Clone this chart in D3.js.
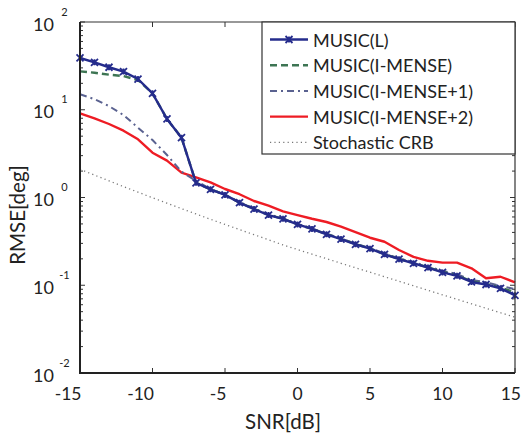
<!DOCTYPE html>
<html><head><meta charset="utf-8">
<script src="https://cdn.jsdelivr.net/npm/d3@7"></script>
<style>
html,body{margin:0;padding:0;background:#fff;}
text{font-family:Lato,"Open Sans",sans-serif;fill:#222;}
</style></head>
<body><svg id="c" width="522" height="434"></svg>
<script>
const snr = [-15,-14,-13,-12,-11,-10,-9,-8,-7,-6,-5,-4,-3,-2,-1,0,1,2,3,4,5,6,7,8,9,10,11,12,13,14,15];
const musicL = [38.9,34.7,30.5,27.2,22.4,15.4,7.85,4.8,1.47,1.24,1.07,0.873,0.739,0.631,0.571,0.494,0.438,0.380,0.336,0.293,0.261,0.225,0.198,0.178,0.159,0.140,0.128,0.109,0.102,0.0923,0.0768];
const musicIM = [27.4,26.4,25.1,24.2,21.8,15.4,7.85,4.8,1.47,1.24,1.07,0.875,0.74,0.632,0.572,0.494,0.44,0.382,0.338,0.295,0.262,0.226,0.2,0.179,0.16,0.142,0.13,0.111,0.104,0.094,0.083];
const musicIM1 = [15.0,13.2,11.0,8.71,6.24,4.52,3.05,1.97,1.55,1.25,1.07,0.89,0.75,0.64,0.58,0.50,0.445,0.387,0.342,0.298,0.266,0.230,0.203,0.183,0.164,0.146,0.134,0.115,0.108,0.0985,0.090];
const musicIM2 = [9.12,7.99,6.88,5.77,4.60,3.24,2.63,1.92,1.70,1.49,1.25,1.09,0.912,0.807,0.695,0.631,0.573,0.526,0.465,0.404,0.348,0.313,0.252,0.211,0.190,0.181,0.181,0.156,0.120,0.125,0.108];
const crb = [2.10,1.80,1.55,1.33,1.15,0.993,0.861,0.746,0.649,0.565,0.493,0.431,0.377,0.330,0.288,0.255,0.226,0.201,0.178,0.158,0.141,0.125,0.111,0.0986,0.0875,0.0778,0.0692,0.0615,0.0547,0.0486,0.0433];
const xTicks = [-15,-10,-5,0,5,10,15];
const yTicks = [0.01,0.1,1,10,100];
const yExps = ["-2","-1","0","1","2"];
const seriesNames = ["MUSIC(L)","MUSIC(I-MENSE)","MUSIC(I-MENSE+1)","MUSIC(I-MENSE+2)","Stochastic CRB"];

const L=80,R=515,T=22,B=373;
const svg=d3.select("#c");
const x=d3.scaleLinear().domain([-15,15]).range([L,R]);
const y=d3.scaleLog().domain([0.01,100]).range([B,T]);

const styles=[
 {data:musicL,color:"#252c8c",w:2.4,dash:null,marker:true},
 {data:musicIM,color:"#3d7553",w:2.4,dash:"7,4",marker:false},
 {data:musicIM1,color:"#5a6290",w:2,dash:"7,4,2,4",marker:false},
 {data:musicIM2,color:"#ee1c24",w:2.4,dash:null,marker:false},
 {data:crb,color:"#777",w:1.3,dash:"1.2,3.2",marker:false}
];

// minor ticks (log)
const minors=[];
for(let e=-2;e<2;e++)for(let m=2;m<=9;m++)minors.push(m*Math.pow(10,e));
const g=svg.append("g");
g.selectAll(".mnl").data(minors).enter().append("line")
 .attr("x1",L).attr("x2",L+3).attr("y1",d=>y(d)).attr("y2",d=>y(d)).attr("stroke","#333").attr("stroke-width",1);
g.selectAll(".mnr").data(minors).enter().append("line")
 .attr("x1",R).attr("x2",R-3).attr("y1",d=>y(d)).attr("y2",d=>y(d)).attr("stroke","#333").attr("stroke-width",1);
g.selectAll(".mjl").data(yTicks).enter().append("line")
 .attr("x1",L).attr("x2",L+5).attr("y1",d=>y(d)).attr("y2",d=>y(d)).attr("stroke","#333").attr("stroke-width",1);
g.selectAll(".mjr").data(yTicks).enter().append("line")
 .attr("x1",R).attr("x2",R-5).attr("y1",d=>y(d)).attr("y2",d=>y(d)).attr("stroke","#333").attr("stroke-width",1);
g.selectAll(".xb").data(xTicks).enter().append("line")
 .attr("x1",d=>x(d)).attr("x2",d=>x(d)).attr("y1",B).attr("y2",B-5).attr("stroke","#333").attr("stroke-width",1);
g.selectAll(".xt").data(xTicks).enter().append("line")
 .attr("x1",d=>x(d)).attr("x2",d=>x(d)).attr("y1",T).attr("y2",T+5).attr("stroke","#333").attr("stroke-width",1);

// series
const line=d3.line().x((d,i)=>x(snr[i])).y(d=>y(d));
const sg=svg.append("g");
styles.slice().reverse().forEach(s=>{
  sg.append("path").attr("d",line(s.data)).attr("fill","none").attr("stroke",s.color)
    .attr("stroke-width",s.w).attr("stroke-dasharray",s.dash).attr("stroke-linejoin","round");
  if(s.marker){
    sg.selectAll(null).data(s.data).enter().append("path")
      .attr("transform",(d,i)=>`translate(${x(snr[i])},${y(d)})`)
      .attr("d","M-3.5,-3.5L3.5,3.5M-3.5,3.5L3.5,-3.5M0,-3L0,3").attr("stroke",s.color).attr("stroke-width",1.8).attr("fill","none");
  }
});

// frame
svg.append("line").attr("x1",L).attr("x2",R).attr("y1",T).attr("y2",T).attr("stroke","#333").attr("stroke-width",1.2);
svg.append("line").attr("x1",R).attr("x2",R).attr("y1",T).attr("y2",B).attr("stroke","#333").attr("stroke-width",1.2);
svg.append("line").attr("x1",L).attr("x2",L).attr("y1",T).attr("y2",B+1).attr("stroke","#222").attr("stroke-width",2);
svg.append("line").attr("x1",L-1).attr("x2",R).attr("y1",B).attr("y2",B).attr("stroke","#222").attr("stroke-width",2);

// x tick labels
svg.selectAll(".xl").data(xTicks).enter().append("text")
 .attr("x",d=>d<0?x(d)+1.5:(d===15?521:x(d)))
 .attr("y",400).attr("text-anchor",d=>(d<0||d===15)?"end":"middle")
 .attr("font-size",17.5).text(d=>d<0?"-"+Math.abs(d):String(d));
// y tick labels
svg.selectAll(".yl").data(yTicks).enter().append("text")
 .attr("x",54).attr("y",d=>y(d)+8.5).attr("text-anchor","end").attr("font-size",18).text("10");
svg.selectAll(".ye").data(yTicks).enter().append("text")
 .attr("x",64.5).attr("y",(d,i)=>y(d)-6.5).attr("text-anchor","middle").attr("font-size",11).text((d,i)=>yExps[i]);

// axis titles
svg.append("text").attr("x",283).attr("y",429).attr("text-anchor","middle").attr("font-size",20.5).text("SNR[dB]");
svg.append("text").attr("transform","translate(25,215) rotate(-90)").attr("text-anchor","middle").attr("font-size",20.5).text("RMSE[deg]");

// legend
const lg=svg.append("g");
lg.append("rect").attr("x",262).attr("y",22).attr("width",253).attr("height",132).attr("fill","#fff").attr("stroke","#333").attr("stroke-width",1.2);
seriesNames.forEach((nm,i)=>{
  const s=styles[i], yy=39.5+i*25.7;
  lg.append("line").attr("x1",270).attr("x2",308).attr("y1",yy).attr("y2",yy).attr("stroke",s.color)
    .attr("stroke-width",s.w).attr("stroke-dasharray",s.dash);
  if(s.marker) lg.append("path").attr("transform",`translate(289,${yy})`)
    .attr("d","M-3.5,-3.5L3.5,3.5M-3.5,3.5L3.5,-3.5M0,-3L0,3").attr("stroke",s.color).attr("stroke-width",1.8);
  lg.append("text").attr("x",313).attr("y",yy+7).attr("font-size",18).text(nm);
});
</script></body></html>
